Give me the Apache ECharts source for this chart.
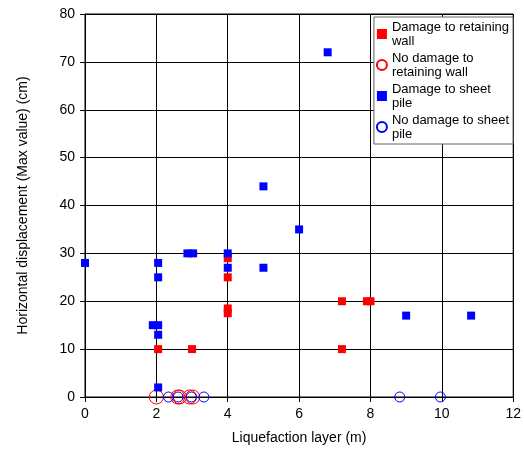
<!DOCTYPE html>
<html>
<head>
<meta charset="utf-8">
<script src="https://cdn.jsdelivr.net/npm/echarts@6/dist/echarts.min.js"></script>
<style>
  html, body { margin: 0; padding: 0; background: #fff; }
  #chart { width: 524px; height: 450px; }
</style>
</head>
<body>
<div id="chart"></div>
<script>
// series data: [liquefaction layer (m), displacement (cm)]
const wallDamage = [[2.05, 10], [3, 10], [4, 29], [4, 25], [4, 18.5], [4, 17.5], [7.2, 20], [7.2, 10], [7.9, 20], [8.0, 20]];
const wallNoDamage = [[2.0, 0], [2.6, 0], [2.65, 0], [2.93, 0], [3.02, 0]];
const pileDamage = [[0, 28], [2.05, 28], [2.05, 25], [1.9, 15], [2.05, 15], [2.05, 13], [2.05, 2],
  [2.87, 30], [3.03, 30], [4, 30], [4, 27], [5, 27], [5, 44], [6, 35], [6.8, 72], [9.0, 17], [10.82, 17]];
const pileNoDamage = [[2.34, 0], [2.61, 0], [2.98, 0], [3.33, 0], [8.82, 0], [9.96, 0]];

const names = ['Damage to retaining\nwall', 'No damage to\nretaining wall', 'Damage to sheet\npile', 'No damage to sheet\npile'];

const fontFam = 'Liberation Sans, Arial, sans-serif';

const chart = echarts.init(document.getElementById('chart'));
chart.setOption({
  animation: false,
  backgroundColor: '#fff',
  grid: {
    left: 85,
    right: 9,
    top: 14,
    bottom: 53,
    show: true,
    borderColor: '#000',
    borderWidth: 1,
  },
  legend: {
    orient: 'vertical',
    right: 11,
    top: 17,
    itemWidth: 10,
    itemHeight: 10,
    itemGap: 3,
    padding: [3, 4, 3, 2],
    backgroundColor: '#fff',
    borderColor: '#666',
    borderWidth: 1,
    data: names,
    textStyle: {
      fontFamily: fontFam,
      fontSize: 13,
      color: '#000',
      lineHeight: 14,
    },
  },
  xAxis: {
    type: 'value',
    min: 0,
    max: 12,
    interval: 2,
    name: 'Liquefaction layer (m)',
    nameLocation: 'middle',
    nameGap: 34,
    nameTextStyle: { fontFamily: fontFam, fontSize: 14, color: '#000' },
    axisLine: { lineStyle: { color: '#000' } },
    axisTick: { show: true, inside: false, length: 5, lineStyle: { color: '#000' } },
    axisLabel: { fontFamily: fontFam, fontSize: 14, color: '#000', margin: 10 },
    splitLine: { show: true, lineStyle: { color: '#000', width: 1 } },
  },
  yAxis: {
    type: 'value',
    min: 0,
    max: 80,
    interval: 10,
    name: 'Horizontal displacement (Max value) (cm)',
    nameLocation: 'middle',
    nameGap: 55,
    nameTextStyle: { fontFamily: fontFam, fontSize: 14, color: '#000' },
    axisLine: { lineStyle: { color: '#000' } },
    axisTick: { show: true, length: 5, lineStyle: { color: '#000' } },
    axisLabel: { fontFamily: fontFam, fontSize: 14, color: '#000', margin: 10 },
    splitLine: { show: true, lineStyle: { color: '#000', width: 1 } },
  },
  series: [
    {
      name: names[0],
      type: 'scatter',
      symbol: 'rect',
      symbolSize: 8,
      itemStyle: { color: '#ff0000', opacity: 1 },
      data: wallDamage,
      z: 3,
    },
    {
      name: names[1],
      type: 'scatter',
      symbol: 'circle',
      symbolSize: 14,
      itemStyle: { color: 'rgba(0,0,0,0)', borderColor: '#ff0000', borderWidth: 1, opacity: 1 },
      data: wallNoDamage,
      z: 2,
    },
    {
      name: names[2],
      type: 'scatter',
      symbol: 'rect',
      symbolSize: 8,
      itemStyle: { color: '#0000ff', opacity: 1 },
      data: pileDamage,
      z: 4,
    },
    {
      name: names[3],
      type: 'scatter',
      symbol: 'circle',
      symbolSize: 10,
      itemStyle: { color: 'rgba(0,0,0,0)', borderColor: '#0000ff', borderWidth: 1, opacity: 1 },
      data: pileNoDamage,
      z: 2,
    },
  ],
});
</script>
</body>
</html>
